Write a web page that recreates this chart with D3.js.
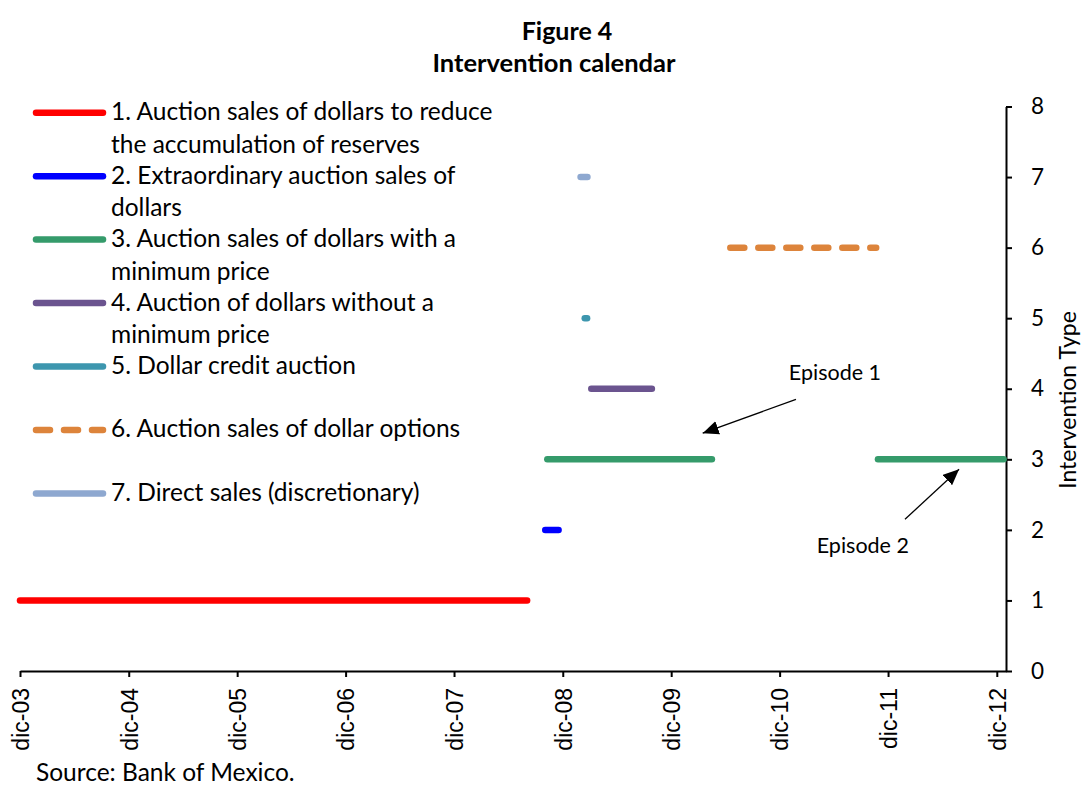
<!DOCTYPE html>
<html>
<head>
<meta charset="utf-8">
<script src="https://cdn.jsdelivr.net/npm/d3@7"></script>
<style>
  body { margin: 0; background: #fff; }
  svg { display: block; }
  .lbl { font-family: Lato, "Open Sans", sans-serif; fill: #000; }
  .xax text { font-family: "Liberation Sans", Arial, sans-serif; }
</style>
</head>
<body>
<svg id="chart" width="1082" height="787"></svg>
<script>
// intervention types (y value of each series)
var types = [1, 2, 3, 4, 5, 6, 7];

var legendLabels = [
  ["1. Auction sales of dollars to reduce", "the accumulation of reserves"],
  ["2. Extraordinary auction sales of", "dollars"],
  ["3. Auction sales of dollars with a", "minimum price"],
  ["4. Auction of dollars without a", "minimum price"],
  ["5. Dollar credit auction"],
  ["6. Auction sales of dollar options"],
  ["7. Direct sales (discretionary)"]
];

// active periods for each type, [start, end]
var periods = [
  [["2003-12-01", "2008-08-03"]],
  [["2008-10-03", "2008-11-17"]],
  [["2008-10-10", "2010-04-17"], ["2011-10-28", "2012-12-24"]],
  [["2009-03-07", "2009-09-27"]],
  [["2009-02-13", "2009-02-21"]],
  [["2010-06-18", "2011-10-22"]],
  [["2009-01-30", "2009-02-22"]]
];

var tickDates = ["2003-12-01", "2004-12-01", "2005-12-01", "2006-12-01", "2007-12-01",
                 "2008-12-01", "2009-12-01", "2010-12-01", "2011-12-01", "2012-12-01"];
var tickLabels = ["dic-03", "dic-04", "dic-05", "dic-06", "dic-07",
                  "dic-08", "dic-09", "dic-10", "dic-11", "dic-12"];
var yTicks = [0, 1, 2, 3, 4, 5, 6, 7, 8];

// arrows: label, text anchor point, arrow tail, arrow tip (date, value)
var episodes = [
  { label: "Episode 1", text: ["2011-01-01", 4.13], tail: ["2011-01-25", 3.85], tip: ["2010-03-17", 3.37] },
  { label: "Episode 2", text: ["2011-04-05", 1.67], tail: ["2012-01-27", 2.15], tip: ["2012-07-27", 2.86] }
];

var colors = ["#ff0000", "#0000ff", "#359b6b", "#6b548f", "#3d96ae", "#dd843b", "#8ea8d0"];

var parse = d3.timeParse("%Y-%m-%d");
var svg = d3.select("#chart");

var x = d3.scaleTime()
  .domain([parse("2003-12-01"), parse("2013-01-01")])
  .range([20, 1006]);

var y = d3.scaleLinear()
  .domain([0, 8])
  .range([671, 106.5]);

var line = d3.line()
  .x(d => x(d.date))
  .y(d => y(d.value));

// title
svg.append("text").attr("class", "lbl")
  .attr("x", 567).attr("y", 40)
  .attr("text-anchor", "middle")
  .style("font-size", "25px").style("font-weight", "bold")
  .text("Figure 4");
svg.append("text").attr("class", "lbl")
  .attr("x", 554).attr("y", 72)
  .attr("text-anchor", "middle")
  .style("font-size", "25.5px").style("font-weight", "bold")
  .text("Intervention calendar");

// x axis
var xAxis = svg.append("g")
  .attr("class", "xax")
  .attr("transform", "translate(0," + y(0) + ")")
  .call(d3.axisBottom(x)
    .tickValues(tickDates.map(parse))
    .tickFormat((d, i) => tickLabels[i])
    .tickSize(6)
    .tickSizeOuter(0));
xAxis.select(".domain").attr("stroke-width", 2);
xAxis.selectAll(".tick line").attr("stroke-width", 2);
xAxis.selectAll(".tick text")
  .attr("transform", "rotate(-90)")
  .attr("x", -17)
  .attr("y", 0)
  .attr("dy", "0.36em")
  .style("text-anchor", "end")
  .style("font-size", "23px")
  .attr("fill", "#000");

// y axis on the right
var yAxis = svg.append("g")
  .attr("transform", "translate(" + x.range()[1] + ",0)")
  .call(d3.axisRight(y)
    .tickValues(yTicks)
    .tickSize(6)
    .tickSizeOuter(0));
yAxis.select(".domain").attr("stroke-width", 2);
yAxis.selectAll(".tick line").attr("stroke-width", 2);
yAxis.selectAll(".tick text")
  .attr("class", "lbl")
  .attr("x", 25)
  .style("font-size", "22.5px");

svg.append("text").attr("class", "lbl")
  .attr("transform", "translate(1076,400) rotate(-90)")
  .attr("text-anchor", "middle")
  .style("font-size", "23px")
  .text("Intervention Type");

// series
types.forEach(function(t, i) {
  periods[i].forEach(function(p) {
    svg.append("path")
      .attr("fill", "none")
      .attr("stroke", colors[i])
      .attr("stroke-width", 6.5)
      .attr("stroke-linecap", "round")
      .attr("stroke-dasharray", t === 6 ? "14,14" : null)
      .attr("d", line([{ date: parse(p[0]), value: t }, { date: parse(p[1]), value: t }]));
  });
});

// legend
var legend = svg.append("g");
var legendTop = 112.7, legendStep = 63.45;
legendLabels.forEach(function(lines, i) {
  var ly = legendTop + i * legendStep;
  legend.append("line")
    .attr("x1", 36).attr("x2", 103)
    .attr("y1", ly).attr("y2", ly)
    .attr("stroke", colors[i])
    .attr("stroke-width", 6.5)
    .attr("stroke-linecap", "round")
    .attr("stroke-dasharray", types[i] === 6 ? "14,14" : null);
  lines.forEach(function(s, j) {
    legend.append("text").attr("class", "lbl")
      .attr("x", 111)
      .attr("y", ly + 7.5 + j * 32.4)
      .style("font-size", "24.5px")
      .text(s);
  });
});

// annotations
svg.append("defs").append("marker")
  .attr("id", "arrow")
  .attr("viewBox", "0 0 16 14")
  .attr("refX", 16).attr("refY", 7)
  .attr("markerWidth", 16).attr("markerHeight", 14)
  .attr("markerUnits", "userSpaceOnUse")
  .attr("orient", "auto")
  .append("path")
  .attr("d", "M0,0L16,7L0,14Z")
  .attr("fill", "#000");

episodes.forEach(function(e) {
  svg.append("line")
    .attr("x1", x(parse(e.tail[0]))).attr("y1", y(e.tail[1]))
    .attr("x2", x(parse(e.tip[0]))).attr("y2", y(e.tip[1]))
    .attr("stroke", "#000")
    .attr("stroke-width", 1.3)
    .attr("marker-end", "url(#arrow)");
  svg.append("text").attr("class", "lbl")
    .attr("x", x(parse(e.text[0]))).attr("y", y(e.text[1]))
    .style("font-size", "21.5px")
    .text(e.label);
});

// source note
svg.append("text").attr("class", "lbl")
  .attr("x", 36).attr("y", 781)
  .style("font-size", "24.5px")
  .text("Source: Bank of Mexico.");
</script>
</body>
</html>
